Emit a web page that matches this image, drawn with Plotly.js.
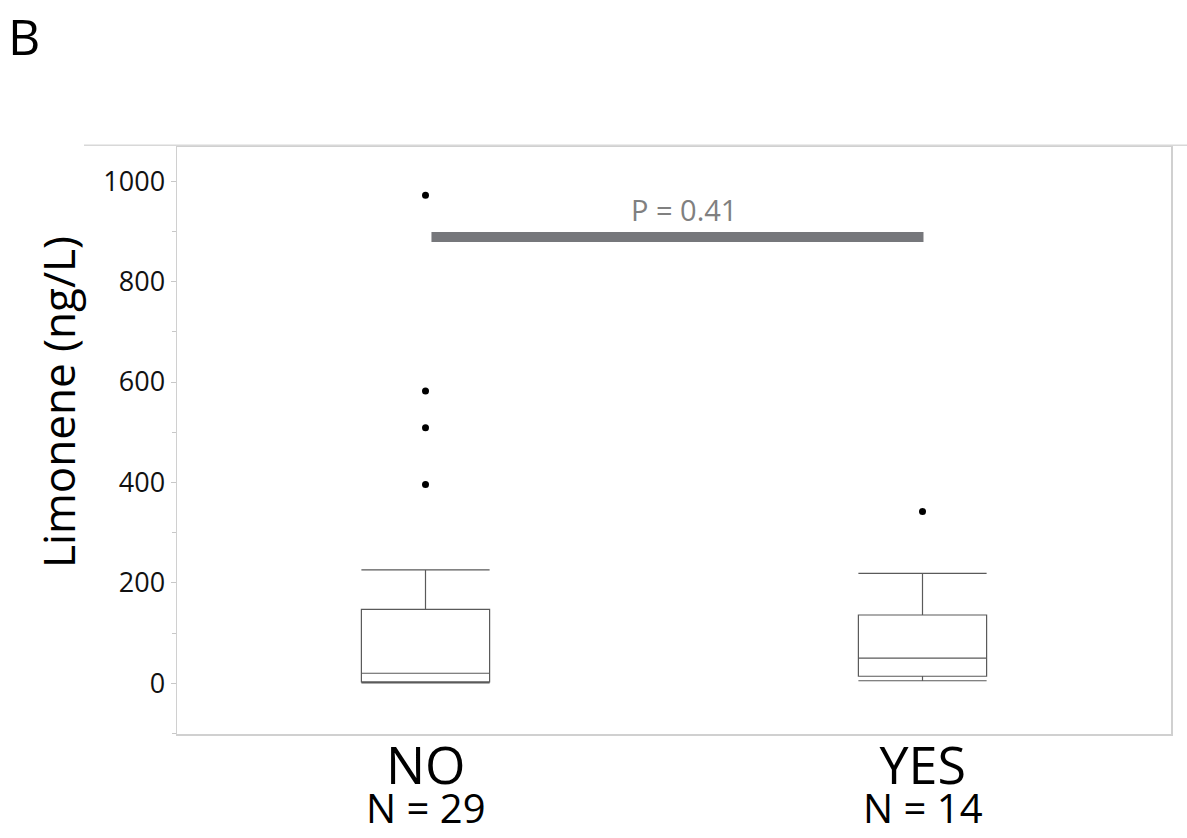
<!DOCTYPE html>
<html>
<head>
<meta charset="utf-8">
<script src="https://cdn.plot.ly/plotly-3.0.1.min.js"></script>
<style>
html,body{margin:0;padding:0;background:#fff;}
#chart{width:1187px;height:838px;}
</style>
</head>
<body>
<div id="chart"></div>
<script>
// Data
var categories = ['NO', 'YES'];
var groupN = [29, 14];
var q1 = [3, 14];
var medians = [20, 50];
var q3 = [147, 136];
var lowerFence = [1, 5];
var upperFence = [226, 219];
var outlierCats = ['NO', 'NO', 'NO', 'NO', 'YES'];
var outlierVals = [972, 582, 509, 396, 342];
var pText = 'P = 0.41';
var pBarY = 889;
var yTickVals = [0, 200, 400, 600, 800, 1000];
var yTitle = 'Limonene (ng/L)';
var panelLabel = 'B';

var FONT = 'Open Sans, sans-serif';
var PW = 994, PH = 587; // plot area size in px

var boxTrace = {
  type: 'box',
  x: categories,
  q1: q1,
  median: medians,
  q3: q3,
  lowerfence: lowerFence,
  upperfence: upperFence,
  boxpoints: false,
  width: 0.258,
  whiskerwidth: 1,
  fillcolor: '#ffffff',
  line: {color: '#5a5a5a', width: 1.2},
  hoverinfo: 'skip',
  showlegend: false
};

var outTrace = {
  type: 'scatter',
  mode: 'markers',
  x: outlierCats,
  y: outlierVals,
  marker: {color: '#000000', size: 7},
  hoverinfo: 'skip',
  showlegend: false
};

var annotations = [];
categories.forEach(function (c, i) {
  annotations.push({
    x: c, y: -104 / PH, xref: 'x', yref: 'paper', yanchor: 'bottom', yshift: 1,
    align: 'center',
    text: '<span style="font-size:52px">' + c + '</span><br><span style="font-size:40px">N = ' + groupN[i] + '</span>',
    showarrow: false,
    font: {family: FONT, size: 30, color: '#000'}
  });
});
annotations.push({
  x: 0.52, y: 944, xref: 'x', yref: 'y', yanchor: 'middle',
  text: pText, showarrow: false,
  font: {family: FONT, size: 29, color: '#808080'}
});
annotations.push({
  x: (6 - 177) / PW, y: 1 + 147 / PH, xref: 'paper', yref: 'paper',
  xanchor: 'left', yanchor: 'top',
  text: panelLabel, showarrow: false,
  font: {family: FONT, size: 50, color: '#000'}
});
annotations.push({
  x: (58 - 177) / PW, y: (734 - 402) / PH, xref: 'paper', yref: 'paper',
  xanchor: 'center', yanchor: 'middle', textangle: -90,
  text: yTitle, showarrow: false,
  font: {family: FONT, size: 44, color: '#000'}
});

var layout = {
  width: 1187, height: 838,
  margin: {l: 177, r: 16, t: 147, b: 104},
  paper_bgcolor: '#ffffff',
  plot_bgcolor: '#ffffff',
  showlegend: false,
  xaxis: {
    type: 'category',
    range: [-0.5, 1.5],
    showticklabels: false,
    ticks: '',
    showgrid: false,
    zeroline: false,
    showline: true, mirror: true, linecolor: '#d0d0d0', linewidth: 1.5
  },
  yaxis: {
    range: [-101, 1068],
    tickvals: yTickVals,
    ticks: 'outside', ticklen: 5, tickcolor: '#c8c8c8', tickwidth: 1,
    minor: {dtick: 100, ticks: 'outside', ticklen: 4, tickcolor: '#c8c8c8', showgrid: false},
    showgrid: false, zeroline: false,
    showline: true, mirror: true, linecolor: '#d0d0d0', linewidth: 1.5,
    tickfont: {family: FONT, size: 27, color: '#111'}
  },
  shapes: [
    {type: 'line', xref: 'x', yref: 'y', x0: 0.012, x1: 1.002, y0: pBarY, y1: pBarY,
     line: {color: '#76777b', width: 10}},
    {type: 'line', xref: 'paper', yref: 'paper', x0: -93 / PW, x1: 1.02, y0: 1.003, y1: 1.003,
     line: {color: '#d8d8d8', width: 1.5}}
  ],
  annotations: annotations
};

Plotly.newPlot('chart', [boxTrace, outTrace], layout, {displayModeBar: false, staticPlot: true});
</script>
</body>
</html>
